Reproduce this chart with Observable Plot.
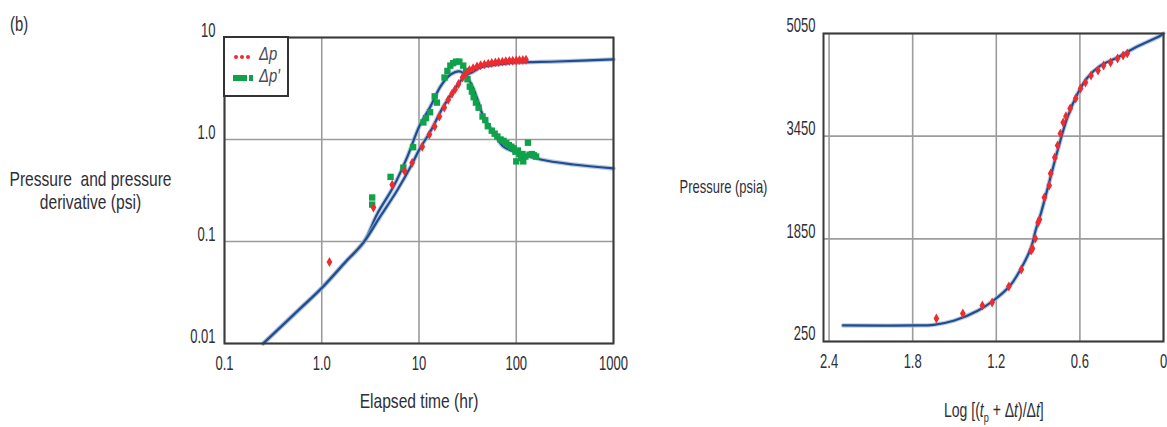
<!DOCTYPE html>
<html>
<head>
<meta charset="utf-8">
<script src="https://cdn.jsdelivr.net/npm/d3@7"></script>
<script src="https://cdn.jsdelivr.net/npm/@observablehq/plot@0.6"></script>
<style>
  body { margin: 0; background: #fff; }
  #wrap {
    position: relative; width: 1167px; height: 427px; overflow: hidden;
    font-family: "Liberation Sans", Arial, sans-serif; color: #2e2e38;
  }
  #wrap svg { position: absolute; top: 0; }
  .narrow { display: inline-block; transform-origin: 0 50%; white-space: nowrap; }
  #panel-tag { position: absolute; left: 10px; top: 13px; font-size: 20px; }
  #panel-tag .narrow { transform: scaleX(0.74); }
  #legend {
    position: absolute; left: 223px; top: 36px; width: 66px; height: 61px;
    border: 2px solid #333; background: #fff; box-sizing: border-box;
  }
  #legend .lab { position: absolute; left: 34px; font-size: 19px; font-style: italic; color: #4a4a55; }
  #legend .lab .narrow { transform: scaleX(0.78); }
  #legend .dot { position: absolute; width: 4px; height: 4px; border-radius: 2px; background: #ee2b2f; }
  #legend .bar { position: absolute; background: #10a14b; }
  #log-label {
    position: absolute; left: 944px; top: 399px; font-size: 20px;
  }
  #log-label .narrow { transform: scaleX(0.7); }
  #log-label sub { font-size: 13px; }
</style>
</head>
<body>
<div id="wrap">
  <div id="panel-tag"><span class="narrow">(b)</span></div>
  <div id="log-label"><span class="narrow">Log [(<i>t</i><sub>p</sub> + Δ<i>t</i>)/Δ<i>t</i>]</span></div>
</div>
<script>
// ---- Log-log diagnostic plot: pressure change and derivative vs elapsed time ----
const elapsedTicks = [0.1, 1, 10, 100, 1000];
const elapsedTickLabels = ["0.1", "1.0", "10", "100", "1000"];
const psiTicks = [0.01, 0.1, 1, 10];
const psiTickLabels = ["0.01", "0.1", "1.0", "10"];

// Measured pressure change Δp (psi)
const dpTime = [1.2, 3.4, 5.3, 7.1, 8.5, 10.8, 12.8, 14.5, 16.2, 18.2, 20.0, 21.8, 23.5, 25.5, 28.0, 30.5, 33.0, 36.0,
  39.5, 43, 47, 51.5, 56, 61, 66, 72, 78, 85, 92, 100, 108, 117, 126];
const dpValue = [0.063, 0.215, 0.36, 0.49, 0.59, 0.85, 1.12, 1.34, 1.68, 2.06, 2.45, 2.8, 3.1, 3.5, 4.05, 4.45, 4.8, 5.0,
  5.2, 5.35, 5.45, 5.55, 5.62, 5.7, 5.75, 5.8, 5.85, 5.9, 5.92, 5.95, 6.0, 6.02, 6.05];

// Measured pressure derivative Δp' (psi)
const derivTime = [3.3, 3.3, 5.1, 6.9, 8.7, 11.1, 11.8, 13.0, 14.5, 15.3, 18.3, 19.6, 21.0, 22.5, 24.0, 26.0, 28.5, 30.5,
  31.5, 33.3, 35.0, 36.5, 38.5, 41, 45, 48, 51, 56, 60, 64, 69, 74, 79, 84, 89, 94, 98, 100, 104, 108, 112, 116, 118, 124,
  132, 137, 145, 152, 160];
const derivValue = [0.27, 0.23, 0.43, 0.53, 0.84, 1.47, 1.62, 1.85, 2.65, 2.3, 4.05, 4.7, 5.3, 5.6, 5.8, 5.8, 5.3, 4.7,
  3.9, 3.3, 2.95, 2.6, 2.3, 2.05, 1.68, 1.55, 1.35, 1.22, 1.14, 1.07, 1.0, 0.97, 0.92, 0.88, 0.85, 0.82, 0.76, 0.61, 0.78,
  0.72, 0.66, 0.72, 0.61, 0.68, 0.93, 0.71, 0.72, 0.7, 0.68];

// Type-curve match: model pressure and model derivative
const modelPTime = [0.25, 0.6, 1, 1.7, 2.69, 4.0, 6.0, 8.2, 10.1, 13.1, 17.8, 22.6, 28.7, 36.3, 42.7, 64, 105, 263, 1000];
const modelPValue = [0.01, 0.022, 0.035, 0.061, 0.098, 0.176, 0.32, 0.54, 0.80, 1.2, 2.1, 2.96, 4.05, 4.64, 5.08, 5.44,
  5.69, 5.82, 6.1];
const modelDTime = [0.25, 0.6, 1, 1.7, 2.69, 3.76, 5.47, 7.6, 10.05, 13.1, 16.6, 21.1, 26.7, 33.8, 39.9, 45.9, 58.3, 73.9,
  103, 178, 386, 1000];
const modelDValue = [0.01, 0.022, 0.035, 0.061, 0.098, 0.19, 0.346, 0.68, 1.34, 2.1, 3.3, 4.34, 4.64, 3.62, 2.47, 1.68,
  1.17, 0.85, 0.746, 0.637, 0.569, 0.52];

// ---- Horner plot: shut-in pressure vs Horner time ----
const hornerTicks = [2.4, 1.8, 1.2, 0.6, 0];
const hornerTickLabels = ["2.4", "1.8", "1.2", "0.6", "0"];
const psiaTicks = [250, 1850, 3450, 5050];
const psiaTickLabels = ["250", "1850", "3450", "5050"];

const buildupLog = [1.63, 1.44, 1.30, 1.23, 1.11, 1.02, 0.95, 0.94, 0.92, 0.90, 0.89, 0.855, 0.82, 0.81, 0.78, 0.76,
  0.74, 0.72, 0.70, 0.67, 0.63, 0.595, 0.56, 0.52, 0.47, 0.43, 0.38, 0.33, 0.29, 0.26];
const buildupPressure = [608, 686, 811, 858, 1107, 1372, 1668, 1700, 1855, 2105, 2150, 2494, 2681, 2868, 3118, 3305,
  3490, 3663, 3760, 3881, 4037, 4193, 4287, 4396, 4474, 4552, 4598, 4660, 4707, 4740];

const hornerModelLog = [2.30, 1.79, 1.65, 1.5, 1.33, 1.22, 1.1, 1.03, 0.95, 0.918, 0.88, 0.83, 0.76, 0.69, 0.616, 0.545,
  0.45, 0.33, 0.215, 0.02, 0];
const hornerModelPressure = [500, 500, 510, 577, 733, 889, 1123, 1357, 1715, 1980, 2245, 2650, 3227, 3740, 4115, 4365,
  4552, 4676, 4816, 5019, 5050];

// ---- styling ----
const ink = "#2e2e38";
const gridColor = "#9c9c9c";
const modelBlue = "#1f4d8f";
const red = "#ee2b2f";
const green = "#10a14b";
const font = "'Liberation Sans', Arial, sans-serif";

const zip = (xs, ys) => xs.map((x, i) => ({x, y: ys[i]}));
const labelOf = (ticks, labels) => d => labels[ticks.indexOf(d)];

const dp = zip(dpTime, dpValue);
const deriv = zip(derivTime, derivValue);
const modelP = zip(modelPTime, modelPValue);
const modelD = zip(modelDTime, modelDValue);
const buildup = zip(buildupLog, buildupPressure);
const hornerModel = zip(hornerModelLog, hornerModelPressure);

const modelLine = (data) => [
  Plot.line(data, {x: "x", y: "y", curve: "catmull-rom", stroke: "#9db2d2", strokeWidth: 4.4, strokeOpacity: 0.7}),
  Plot.line(data, {x: "x", y: "y", curve: "catmull-rom", stroke: modelBlue, strokeWidth: 2.2})
];

const left = Plot.plot({
  width: 650, height: 427,
  marginLeft: 224, marginRight: 37, marginTop: 37, marginBottom: 84,
  style: {fontFamily: font, fontSize: "20px", color: ink, background: "transparent"},
  x: {type: "log", domain: [0.1, 1000]},
  y: {type: "log", domain: [0.01, 10]},
  marks: [
    Plot.gridX(elapsedTicks, {stroke: gridColor, strokeOpacity: 1, strokeWidth: 1.6}),
    Plot.gridY(psiTicks, {stroke: gridColor, strokeOpacity: 1, strokeWidth: 1.6}),
    Plot.axisX(elapsedTicks, {tickSize: 0, tickPadding: 12, label: null, fill: ink, fontSize: 21,
      tickFormat: labelOf(elapsedTicks, elapsedTickLabels)}),
    Plot.axisY(psiTicks, {tickSize: 0, tickPadding: 9, label: null, fill: ink, fontSize: 21, dy: -7,
      tickFormat: labelOf(psiTicks, psiTickLabels)}),
    ...modelLine(modelD),
    ...modelLine(modelP),
    Plot.dot(deriv, {x: "x", y: "y", symbol: "square", r: 3.6, fill: green, stroke: null}),
    Plot.dot(dp, {x: "x", y: "y", symbol: "diamond", r: 3, fill: red, stroke: null}),
    Plot.frame({stroke: "#3a3a3a", strokeWidth: 2}),
    Plot.text(["Pressure  and pressure\nderivative (psi)"], {frameAnchor: "left", dx: -134, textAnchor: "middle",
      lineHeight: 1.12, fontSize: 20, fill: ink}),
    Plot.text(["Elapsed time (hr)"], {frameAnchor: "bottom", dy: 64, fontSize: 20, fill: ink})
  ]
});
left.style.left = "0px";

const right = Plot.plot({
  width: 517, height: 427,
  marginLeft: 173, marginRight: 4, marginTop: 33, marginBottom: 86,
  style: {fontFamily: font, fontSize: "20px", color: ink, background: "transparent"},
  x: {domain: [2.44, 0]},
  y: {domain: [250, 5050]},
  marks: [
    Plot.gridX(hornerTicks, {stroke: gridColor, strokeOpacity: 1, strokeWidth: 1.6}),
    Plot.gridY(psiaTicks, {stroke: gridColor, strokeOpacity: 1, strokeWidth: 1.6}),
    Plot.axisX(hornerTicks, {tickSize: 0, tickPadding: 12, label: null, fill: ink, fontSize: 21,
      tickFormat: labelOf(hornerTicks, hornerTickLabels)}),
    Plot.axisY(psiaTicks, {tickSize: 0, tickPadding: 8, label: null, fill: ink, fontSize: 21, dy: -8,
      tickFormat: labelOf(psiaTicks, psiaTickLabels)}),
    ...modelLine(hornerModel),
    Plot.dot(buildup, {x: "x", y: "y", symbol: "diamond", r: 3, fill: red, stroke: null}),
    Plot.frame({stroke: "#3a3a3a", strokeWidth: 2}),
    Plot.text(["Pressure (psia)"], {frameAnchor: "left", dx: -100, textAnchor: "middle", fontSize: 18, fill: ink})
  ]
});
right.style.left = "650px";

const wrap = document.getElementById("wrap");
wrap.prepend(right);
wrap.prepend(left);

// Condense text horizontally around its anchor, like a condensed typeface.
function squeeze(svg, selector, k) {
  svg.querySelectorAll(selector).forEach(t => {
    const tr = t.getAttribute("transform") || "";
    t.setAttribute("transform", `${tr} scale(${k},1)`);
  });
}
squeeze(left, 'g[aria-label$="tick label"] text', 0.62);
squeeze(right, 'g[aria-label$="tick label"] text', 0.62);
squeeze(left, 'g[aria-label="text"] text', 0.78);
squeeze(right, 'g[aria-label="text"] text', 0.72);

// Legend for the measured series
const legend = document.createElement("div");
legend.id = "legend";
legend.innerHTML = `
  <span class="dot" style="left:9px;top:17px"></span>
  <span class="dot" style="left:15px;top:17px"></span>
  <span class="dot" style="left:21px;top:17px"></span>
  <span class="lab" style="top:5px"><span class="narrow">Δp</span></span>
  <span class="bar" style="left:8px;top:37px;width:14px;height:6px"></span>
  <span class="bar" style="left:24px;top:37px;width:4px;height:6px"></span>
  <span class="lab" style="top:27px"><span class="narrow">Δp′</span></span>`;
wrap.appendChild(legend);
</script>
</body>
</html>
